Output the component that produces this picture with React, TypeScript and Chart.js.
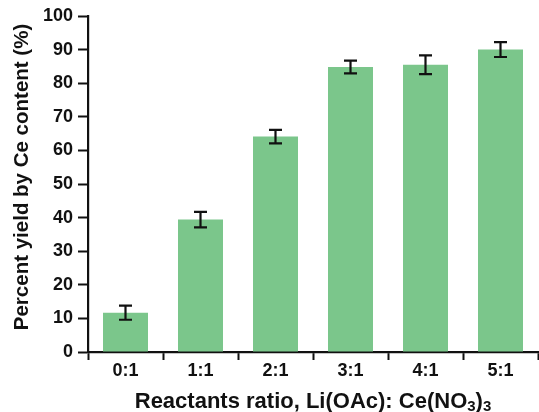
import React, { useEffect, useRef } from "react";
import { Chart, registerables } from "chart.js";

Chart.register(...registerables);

const categories = ["0:1", "1:1", "2:1", "3:1", "4:1", "5:1"];
const yieldValues = [11.7, 39.4, 64.1, 84.8, 85.5, 90.0];
const yieldErrors = [2.1, 2.3, 2.0, 1.9, 2.8, 2.2];
const yTicks = [0, 10, 20, 30, 40, 50, 60, 70, 80, 90, 100];
const yTitle = "Percent yield by Ce content (%)";
const xTitleParts = [
  { text: "Reactants ratio, Li(OAc): Ce(NO", sub: false },
  { text: "3", sub: true },
  { text: ")", sub: false },
  { text: "3", sub: true },
];

const FONT = "'Liberation Sans', Arial, sans-serif";
const INK = "#111";

const errorBarPlugin = {
  id: "errorBars",
  afterDatasetsDraw(chart: any) {
    const ctx = chart.ctx;
    const meta = chart.getDatasetMeta(0);
    const yScale = chart.scales.y;
    ctx.save();
    ctx.strokeStyle = INK;
    ctx.lineWidth = 2.2;
    meta.data.forEach((bar: any, i: number) => {
      const x = bar.x;
      const top = yScale.getPixelForValue(yieldValues[i] + yieldErrors[i]);
      const bot = yScale.getPixelForValue(yieldValues[i] - yieldErrors[i]);
      const cap = 6.5;
      ctx.beginPath();
      ctx.moveTo(x, top);
      ctx.lineTo(x, bot);
      ctx.moveTo(x - cap, top);
      ctx.lineTo(x + cap, top);
      ctx.moveTo(x - cap, bot);
      ctx.lineTo(x + cap, bot);
      ctx.stroke();
    });
    ctx.restore();
  },
};

const titlesPlugin = {
  id: "axisTitles",
  afterDraw(chart: any) {
    const ctx = chart.ctx;
    const area = chart.chartArea;
    ctx.save();
    ctx.fillStyle = INK;
    // y title
    ctx.font = `bold 20.5px ${FONT}`;
    ctx.textAlign = "center";
    ctx.textBaseline = "alphabetic";
    ctx.save();
    ctx.translate(28, 177);
    ctx.rotate(-Math.PI / 2);
    ctx.fillText(yTitle, 0, 0);
    ctx.restore();
    // x title with subscripts
    const mainFont = `bold 22px ${FONT}`;
    const subFont = `bold 15px ${FONT}`;
    let total = 0;
    const widths = xTitleParts.map((p) => {
      ctx.font = p.sub ? subFont : mainFont;
      const w = ctx.measureText(p.text).width;
      total += w;
      return w;
    });
    const cx = (area.left + area.right) / 2;
    let x = cx - total / 2;
    const baseY = 408;
    ctx.textAlign = "left";
    xTitleParts.forEach((p, i) => {
      ctx.font = p.sub ? subFont : mainFont;
      ctx.fillText(p.text, x, p.sub ? baseY + 3 : baseY);
      x += widths[i];
    });
    ctx.restore();
  },
};

export default function App() {
  const ref = useRef<HTMLCanvasElement>(null);
  useEffect(() => {
    document.body.style.margin = "0";
    const chart = new Chart(ref.current as HTMLCanvasElement, {
      type: "bar",
      data: {
        labels: categories,
        datasets: [
          {
            data: yieldValues,
            backgroundColor: "rgb(123,198,139)",
            borderWidth: 0,
            categoryPercentage: 1,
            barPercentage: 0.6,
          },
        ],
      },
      plugins: [errorBarPlugin, titlesPlugin],
      options: {
        animation: false,
        responsive: false,
        layout: { padding: { top: 16, right: 1, left: 0, bottom: 0 } },
        plugins: { legend: { display: false }, tooltip: { enabled: false } },
        scales: {
          x: {
            afterFit(scale: any) {
              scale.height = 60;
            },
            grid: {
              display: true,
              drawOnChartArea: false,
              drawTicks: true,
              tickLength: 8,
              tickWidth: 2,
              tickColor: INK,
              offset: true,
            },
            border: { display: true, color: INK, width: 2.2 },
            ticks: {
              color: INK,
              padding: 0,
              font: { family: FONT, size: 18, weight: "bold" },
            },
          },
          y: {
            min: 0,
            max: 100,
            afterFit(scale: any) {
              scale.width = 88;
            },
            afterBuildTicks(scale: any) {
              scale.ticks = yTicks.map((v) => ({ value: v }));
            },
            grid: {
              display: true,
              drawOnChartArea: false,
              drawTicks: true,
              tickLength: 10,
              tickWidth: 2,
              tickColor: INK,
            },
            border: { display: true, color: INK, width: 2.2 },
            ticks: {
              color: INK,
              padding: 5,
              font: { family: FONT, size: 18, weight: "bold" },
            },
          },
        },
      },
    } as any);
    return () => chart.destroy();
  }, []);
  return (
    <div style={{ width: 539, height: 412 }}>
      <canvas ref={ref} width={539} height={412} />
    </div>
  );
}
